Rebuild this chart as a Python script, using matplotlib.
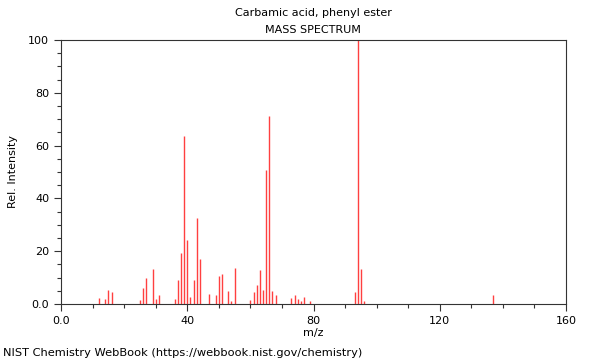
import matplotlib
matplotlib.use('Agg')
import matplotlib.pyplot as plt
from matplotlib.ticker import MultipleLocator, FuncFormatter

# m/z and relative intensity
mz = [12, 14, 15, 16, 25, 26, 27, 29, 30, 31, 36, 37, 38, 39, 40, 41, 42, 43, 44,
      47, 49, 50, 51, 53, 54, 55, 60, 61, 62, 63, 64, 65, 66, 67, 68,
      73, 74, 75, 76, 77, 79, 93, 94, 95, 96, 137]
intensity = [2.2, 1.8, 5.2, 4.7, 1.4, 6.2, 9.7, 13.3, 1.8, 3.3, 1.9, 9.0, 19.2, 63.6, 24.2, 2.7, 9.1, 32.6, 17.2,
             3.9, 3.4, 10.7, 11.4, 4.9, 1.1, 13.6, 1.5, 4.5, 7.2, 12.9, 5.3, 50.8, 71.2, 4.9, 3.5,
             2.3, 3.4, 1.8, 1.0, 2.8, 1.1, 4.7, 100.0, 13.4, 1.1, 3.4]

title = 'Carbamic acid, phenyl ester'
subtitle = 'MASS SPECTRUM'
footer = 'NIST Chemistry WebBook (https://webbook.nist.gov/chemistry)'

fig = plt.figure(figsize=(6, 3.6), dpi=100)
ax = fig.add_axes([61/600, 1 - 304/360, 505/600, 264/360])

ax.vlines(mz, 0, intensity, colors='#ff4040', linewidth=1.0)

ax.set_xlim(0, 160)
ax.set_ylim(0, 100)
ax.xaxis.set_major_locator(MultipleLocator(40))
ax.xaxis.set_minor_locator(MultipleLocator(10))
ax.yaxis.set_major_locator(MultipleLocator(20))
ax.yaxis.set_minor_locator(MultipleLocator(5))
fmt = FuncFormatter(lambda v, p: '0.0' if v == 0 else f'{int(v)}')
ax.xaxis.set_major_formatter(fmt)
ax.yaxis.set_major_formatter(fmt)
ax.tick_params(which='major', length=5, width=0.8, labelsize=8, color='#333333')
ax.tick_params(which='minor', length=3, width=0.8, color='#333333')
for s in ax.spines.values():
    s.set_color('#333333')
    s.set_linewidth(0.8)

ax.set_xlabel('m/z', fontsize=8)
ax.xaxis.set_label_coords(0.5, -0.09)
ax.set_ylabel('Rel. Intensity', fontsize=8)
ax.yaxis.set_label_coords(-0.085, 0.5)

fig.text(313/600, 1 - 13/360, title, ha='center', va='center', fontsize=8)
fig.text(313/600, 1 - 30/360, subtitle, ha='center', va='center', fontsize=8)
fig.text(3/600, 1 - 353/360, footer, ha='left', va='center', fontsize=8.2)

fig.savefig('out.png', dpi=100)
